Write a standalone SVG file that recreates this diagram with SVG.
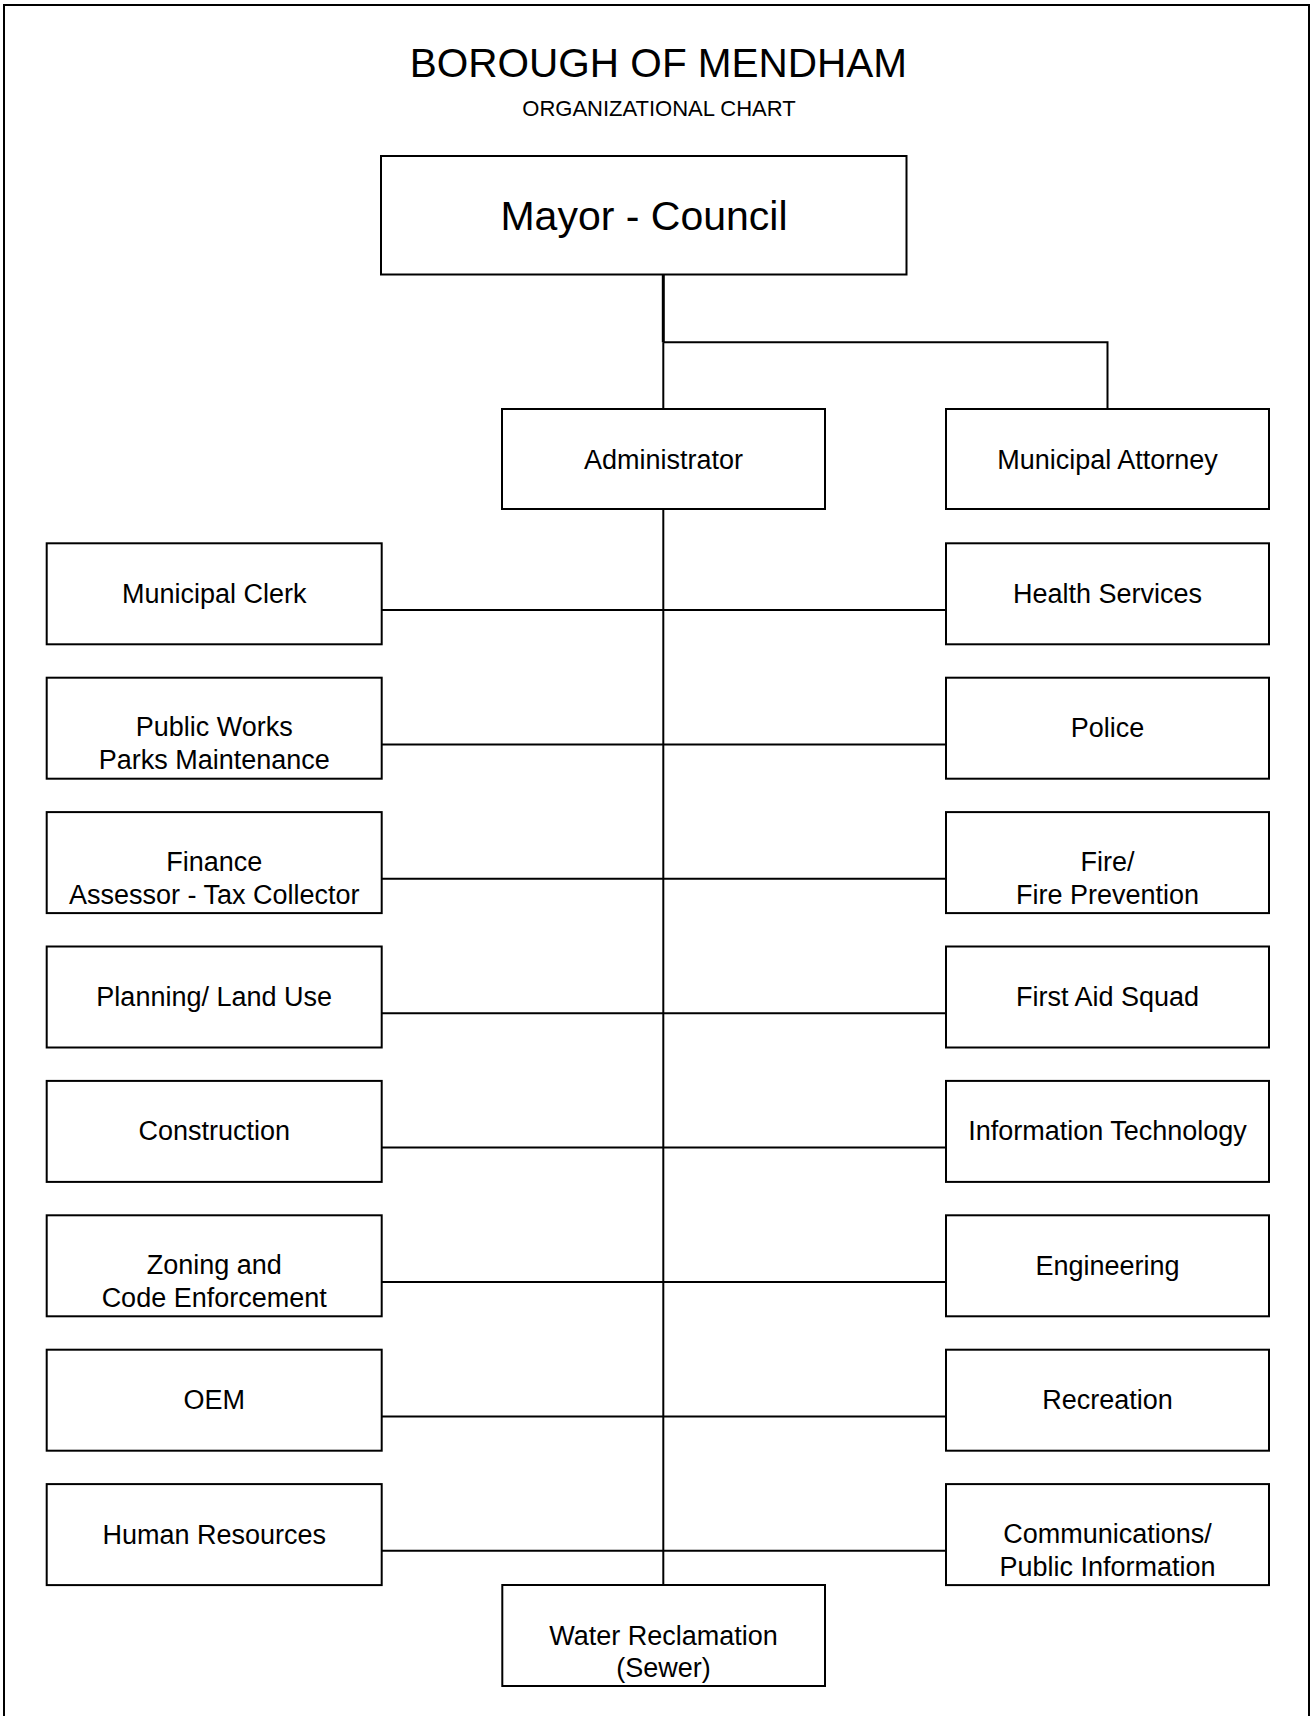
<svg xmlns="http://www.w3.org/2000/svg" width="1314" height="1716" viewBox="0 0 1314 1716">
<style>
.box{fill:#fff;stroke:#000;stroke-width:2}
.t{font-family:"Liberation Sans",Arial,sans-serif;font-size:27px;fill:#000;text-anchor:middle}
.c{fill:none;stroke:#000;stroke-width:2}
</style>
<rect width="1314" height="1716" fill="#fff"/>
<rect x="4" y="5" width="1305" height="1730" fill="none" stroke="#000" stroke-width="2"/>
<g id="title">
<text x="658.5" y="77" class="t" style="font-size:40.5px">BOROUGH OF MENDHAM</text>
<text x="659" y="116" class="t" style="font-size:22px">ORGANIZATIONAL CHART</text>
</g>
<g id="connectors">
<path class="c" style="stroke-width:3" d="M663.3,274.5V342.3"/>
<path class="c" d="M663.3,342.3V409M663.3,342.3H1107.5V409"/>
<path class="c" d="M663.3,509V1585"/>
<path class="c" d="M381.7,610H946M381.7,744.4H946M381.7,878.8H946M381.7,1013.2H946M381.7,1147.6H946M381.7,1282H946M381.7,1416.4H946M381.7,1550.8H946"/>
</g>
<g id="mayor"><rect class="box" x="381" y="156" width="525.5" height="118.5"/><text class="t" x="644" y="230" style="font-size:41px">Mayor - Council</text></g>
<g id="administrator"><rect class="box" x="502" y="409" width="323" height="100"/><text class="t" x="663.5" y="468.5">Administrator</text></g>
<g id="attorney"><rect class="box" x="946" y="409" width="323" height="100"/><text class="t" x="1107.5" y="468.5">Municipal Attorney</text></g>

<g id="clerk"><rect class="box" x="46.7" y="543.3" width="335" height="101"/><text class="t" x="214.2" y="602.8">Municipal Clerk</text></g>
<g id="health"><rect class="box" x="946" y="543.3" width="323" height="101"/><text class="t" x="1107.5" y="602.8">Health Services</text></g>

<g id="publicworks"><rect class="box" x="46.7" y="677.7" width="335" height="101"/><text class="t" x="214.2" y="735.7">Public Works</text><text class="t" x="214.2" y="769.2">Parks Maintenance</text></g>
<g id="police"><rect class="box" x="946" y="677.7" width="323" height="101"/><text class="t" x="1107.5" y="737.2">Police</text></g>

<g id="finance"><rect class="box" x="46.7" y="812.1" width="335" height="101"/><text class="t" x="214.2" y="870.6">Finance</text><text class="t" x="214.2" y="904.1">Assessor - Tax Collector</text></g>
<g id="fire"><rect class="box" x="946" y="812.1" width="323" height="101"/><text class="t" x="1107.5" y="870.6">Fire/</text><text class="t" x="1107.5" y="904.1">Fire Prevention</text></g>

<g id="planning"><rect class="box" x="46.7" y="946.5" width="335" height="101"/><text class="t" x="214.2" y="1006">Planning/ Land Use</text></g>
<g id="firstaid"><rect class="box" x="946" y="946.5" width="323" height="101"/><text class="t" x="1107.5" y="1006">First Aid Squad</text></g>

<g id="construction"><rect class="box" x="46.7" y="1080.9" width="335" height="101"/><text class="t" x="214.2" y="1140.4">Construction</text></g>
<g id="it"><rect class="box" x="946" y="1080.9" width="323" height="101"/><text class="t" x="1107.5" y="1140.4">Information Technology</text></g>

<g id="zoning"><rect class="box" x="46.7" y="1215.3" width="335" height="101"/><text class="t" x="214.2" y="1273.8">Zoning and</text><text class="t" x="214.2" y="1307.3">Code Enforcement</text></g>
<g id="engineering"><rect class="box" x="946" y="1215.3" width="323" height="101"/><text class="t" x="1107.5" y="1274.8">Engineering</text></g>

<g id="oem"><rect class="box" x="46.7" y="1349.7" width="335" height="101"/><text class="t" x="214.2" y="1409.2">OEM</text></g>
<g id="recreation"><rect class="box" x="946" y="1349.7" width="323" height="101"/><text class="t" x="1107.5" y="1409.2">Recreation</text></g>

<g id="hr"><rect class="box" x="46.7" y="1484.1" width="335" height="101"/><text class="t" x="214.2" y="1543.6">Human Resources</text></g>
<g id="communications"><rect class="box" x="946" y="1484.1" width="323" height="101"/><text class="t" x="1107.5" y="1542.6">Communications/</text><text class="t" x="1107.5" y="1576.1">Public Information</text></g>

<g id="water"><rect class="box" x="502.3" y="1585" width="322.7" height="101"/><text class="t" x="663.6" y="1644.5">Water Reclamation</text><text class="t" x="663.6" y="1677">(Sewer)</text></g>
</svg>
